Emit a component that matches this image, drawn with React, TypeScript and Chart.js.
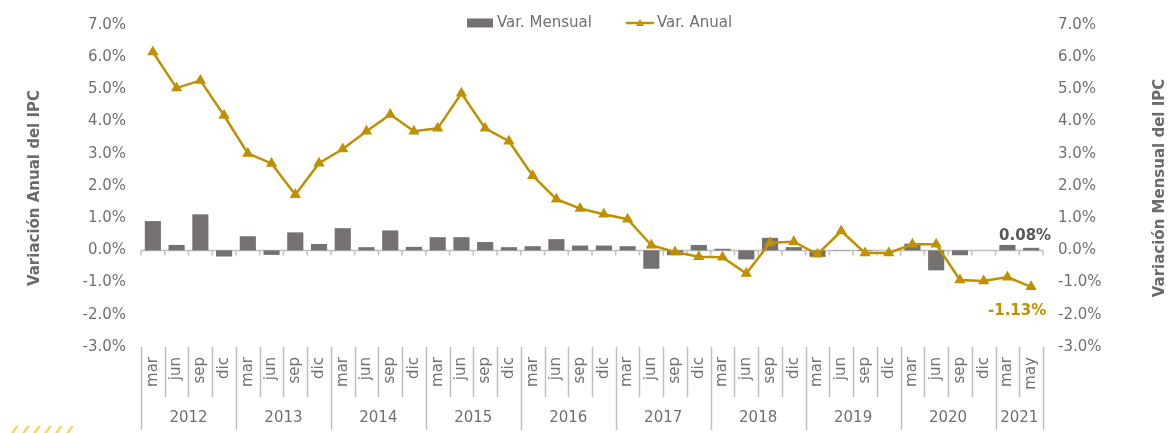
import React, { useEffect, useRef } from "react";
import { Chart, registerables } from "chart.js";

Chart.register(...registerables);

// ---- Data ----
const monthLabels = [
  "mar", "jun", "sep", "dic",
  "mar", "jun", "sep", "dic",
  "mar", "jun", "sep", "dic",
  "mar", "jun", "sep", "dic",
  "mar", "jun", "sep", "dic",
  "mar", "jun", "sep", "dic",
  "mar", "jun", "sep", "dic",
  "mar", "jun", "sep", "dic",
  "mar", "jun", "sep", "dic",
  "mar", "may",
];
const yearLabels = ["2012", "2013", "2014", "2015", "2016", "2017", "2018", "2019", "2020", "2021"];
const yearSpans = [4, 4, 4, 4, 4, 4, 4, 4, 4, 2];

const varMensual = [
  0.91, 0.17, 1.12, -0.19,
  0.44, -0.14, 0.56, 0.2,
  0.69, 0.1, 0.62, 0.11,
  0.41, 0.41, 0.26, 0.1,
  0.13, 0.35, 0.15, 0.15,
  0.13, -0.57, -0.15, 0.17,
  0.05, -0.28, 0.39, 0.1,
  -0.2, 0.01, -0.02, 0.0,
  0.21, -0.62, -0.15, 0.0,
  0.17, 0.08,
];
const varAnual = [
  6.16, 5.04, 5.28, 4.19,
  3.01, 2.7, 1.73, 2.71,
  3.15, 3.7, 4.22, 3.7,
  3.79, 4.88, 3.79, 3.39,
  2.32, 1.59, 1.3, 1.12,
  0.97, 0.16, -0.05, -0.2,
  -0.21, -0.72, 0.24, 0.27,
  -0.12, 0.6, -0.08, -0.08,
  0.19, 0.19, -0.92, -0.95,
  -0.83, -1.13,
];

const seriesNames = ["Var. Mensual", "Var. Anual"];
const axisTitles = ["Variación Anual del IPC", "Variación Mensual del IPC"];
const yMin = -3;
const yMax = 7;
const yStep = 1;

// ---- Styles ----
const FONT = "'DejaVu Sans', sans-serif";
const TICK_COLOR = "#707070";
const TITLE_COLOR = "#6b6b6b";
const BAR_COLOR = "#767171";
const LINE_COLOR = "#BF9000";
const SEP_COLOR = "#BFBFBF";

const fmtPct = (v: number, d: number) => v.toFixed(d) + "%";

const decorPlugin = {
  id: "decor",
  beforeDatasetsDraw(chart: any) {
    const { ctx, chartArea } = chart;
    const x = chart.scales.x;
    const y = chart.scales.y1;
    const n = monthLabels.length;
    const step = x.getPixelForValue(1) - x.getPixelForValue(0);
    const y0 = y.getPixelForValue(0);
    ctx.save();
    ctx.strokeStyle = SEP_COLOR;
    ctx.lineWidth = 1.5;
    ctx.beginPath();
    ctx.moveTo(chartArea.left, y0);
    ctx.lineTo(chartArea.right, y0);
    for (let i = 0; i <= n; i++) {
      const bx = x.getPixelForValue(0) - step / 2 + i * step;
      ctx.moveTo(bx, y0);
      ctx.lineTo(bx, y0 + 5);
    }
    ctx.stroke();
    ctx.restore();
  },
  afterDraw(chart: any) {
    const { ctx, chartArea } = chart;
    const x = chart.scales.x;
    const yL = chart.scales.y;
    const yR = chart.scales.y1;
    const n = monthLabels.length;
    const step = x.getPixelForValue(1) - x.getPixelForValue(0);
    const boundary = (i: number) => x.getPixelForValue(0) - step / 2 + i * step;
    const bottom = chartArea.bottom;

    ctx.save();
    // separators
    const yearBounds = new Set<number>();
    let acc = 0;
    yearBounds.add(0);
    yearSpans.forEach((s) => {
      acc += s;
      yearBounds.add(acc);
    });
    ctx.strokeStyle = SEP_COLOR;
    ctx.lineWidth = 1.5;
    ctx.beginPath();
    for (let i = 0; i <= n; i++) {
      const bx = Math.round(boundary(i)) + 0.5;
      ctx.moveTo(bx, bottom);
      ctx.lineTo(bx, bottom + (yearBounds.has(i) ? 83 : 50));
    }
    ctx.stroke();

    // month labels
    ctx.fillStyle = TICK_COLOR;
    ctx.font = `15px ${FONT}`;
    monthLabels.forEach((m, i) => {
      const cx = x.getPixelForValue(i);
      ctx.save();
      ctx.translate(cx, bottom + 10);
      ctx.rotate(-Math.PI / 2);
      ctx.textAlign = "right";
      ctx.textBaseline = "middle";
      ctx.fillText(m, 0, 0);
      ctx.restore();
    });

    // year labels
    ctx.textAlign = "center";
    ctx.textBaseline = "middle";
    let start = 0;
    yearSpans.forEach((s, k) => {
      const cx = (boundary(start) + boundary(start + s)) / 2;
      ctx.fillText(yearLabels[k], cx, bottom + 71);
      start += s;
    });

    // axis titles
    ctx.font = `bold 15px ${FONT}`;
    ctx.fillStyle = TITLE_COLOR;
    const midY = (chartArea.top + chartArea.bottom) / 2 + 2;
    [[35, axisTitles[0]], [1160, axisTitles[1]]].forEach(([tx, t]: any) => {
      ctx.save();
      ctx.translate(tx, midY);
      ctx.rotate(-Math.PI / 2);
      ctx.textAlign = "center";
      ctx.textBaseline = "middle";
      ctx.fillText(t, 0, 0);
      ctx.restore();
    });

    // legend
    ctx.font = `15px ${FONT}`;
    ctx.fillStyle = TICK_COLOR;
    ctx.textAlign = "left";
    ctx.textBaseline = "middle";
    const ly = 23;
    let lx = 467;
    ctx.fillStyle = BAR_COLOR;
    ctx.fillRect(lx, ly - 4.5, 26, 9);
    lx += 30;
    ctx.fillStyle = TICK_COLOR;
    ctx.fillText(seriesNames[0], lx, ly);
    lx += ctx.measureText(seriesNames[0]).width + 34;
    ctx.strokeStyle = LINE_COLOR;
    ctx.lineWidth = 2.5;
    ctx.beginPath();
    ctx.moveTo(lx, ly);
    ctx.lineTo(lx + 28, ly);
    ctx.stroke();
    ctx.fillStyle = LINE_COLOR;
    ctx.beginPath();
    ctx.moveTo(lx + 14, ly - 4);
    ctx.lineTo(lx + 18, ly + 3);
    ctx.lineTo(lx + 10, ly + 3);
    ctx.closePath();
    ctx.fill();
    lx += 31;
    ctx.fillStyle = TICK_COLOR;
    ctx.fillText(seriesNames[1], lx, ly);

    // data labels for last points
    const last = n - 1;
    ctx.font = `bold 15px ${FONT}`;
    ctx.textAlign = "center";
    ctx.fillStyle = "#595959";
    ctx.textBaseline = "bottom";
    ctx.fillText(fmtPct(varMensual[last], 2), x.getPixelForValue(last) - 6, yR.getPixelForValue(varMensual[last]) - 4);
    ctx.fillStyle = LINE_COLOR;
    ctx.textBaseline = "middle";
    ctx.fillText(fmtPct(varAnual[last], 2), x.getPixelForValue(last) - 14, yL.getPixelForValue(varAnual[last]) + 24);

    // small decorative stripes at bottom-left
    ctx.fillStyle = "#F7D36C";
    for (let k = 0; k < 6; k++) {
      const sx = 11 + k * 11;
      ctx.beginPath();
      ctx.moveTo(sx, 433);
      ctx.lineTo(sx + 3, 433);
      ctx.lineTo(sx + 8, 426);
      ctx.lineTo(sx + 5, 426);
      ctx.closePath();
      ctx.fill();
    }
    ctx.restore();
  },
};

export default function App() {
  const ref = useRef<HTMLCanvasElement | null>(null);
  useEffect(() => {
    if (!ref.current) return;
    const yAxis = (position: string, width: number) => ({
      position,
      min: yMin,
      max: yMax,
      grid: { display: false, drawTicks: false },
      border: { display: false },
      ticks: {
        stepSize: yStep,
        padding: 15,
        color: TICK_COLOR,
        font: { family: FONT, size: 15 },
        callback: (v: any) => fmtPct(Number(v), 1),
      },
      afterFit(s: any) {
        s.width = width;
      },
    });
    const chart = new Chart(ref.current, {
      type: "bar",
      data: {
        labels: monthLabels,
        datasets: [
          {
            type: "line",
            label: seriesNames[1],
            data: varAnual,
            yAxisID: "y",
            borderColor: LINE_COLOR,
            backgroundColor: LINE_COLOR,
            borderWidth: 2.5,
            pointStyle: "triangle",
            pointRadius: 4,
            pointBackgroundColor: LINE_COLOR,
            pointBorderColor: LINE_COLOR,
            tension: 0,
            order: 0,
          } as any,
          {
            type: "bar",
            label: seriesNames[0],
            data: varMensual,
            yAxisID: "y1",
            backgroundColor: BAR_COLOR,
            barPercentage: 0.68,
            categoryPercentage: 1,
            order: 1,
          },
        ],
      },
      options: {
        responsive: false,
        animation: false,
        devicePixelRatio: 1,
        layout: { padding: { top: 25, left: 0, right: 0, bottom: 0 } },
        plugins: { legend: { display: false }, tooltip: { enabled: false } },
        scales: {
          x: {
            type: "category",
            offset: true,
            grid: { display: false, drawTicks: false },
            border: { display: false },
            ticks: { display: false },
            afterFit(s: any) {
              s.height = 86;
            },
          },
          y: yAxis("left", 141) as any,
          y1: yAxis("right", 127) as any,
        },
      },
      plugins: [decorPlugin],
    });
    return () => chart.destroy();
  }, []);

  return (
    <div style={{ position: "absolute", left: 0, top: 0, width: 1170, height: 433, background: "#fff", overflow: "hidden" }}>
      <canvas ref={ref} width={1170} height={433} style={{ display: "block", width: 1170, height: 433 }} />
    </div>
  );
}
